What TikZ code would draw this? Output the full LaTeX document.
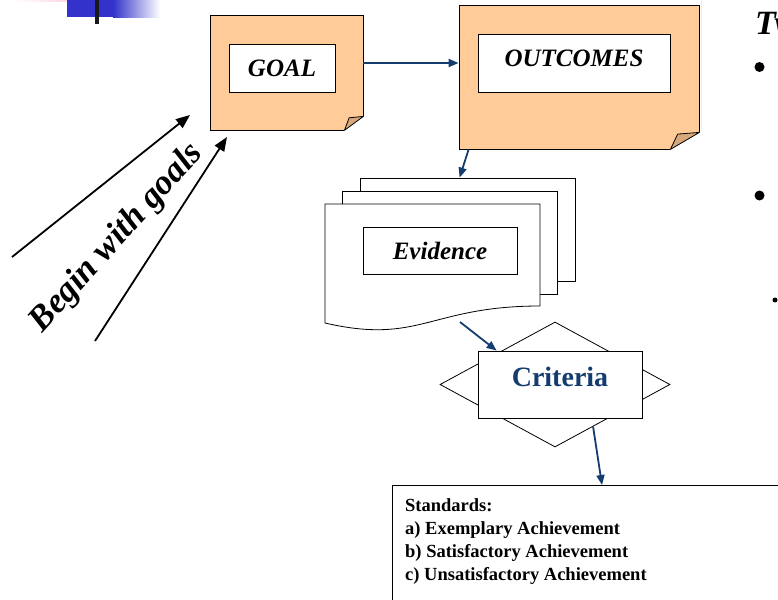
\documentclass[tikz,border=0pt]{standalone}
\usepackage{fontspec}
\setmainfont{Liberation Serif}
\usetikzlibrary{arrows.meta,shapes.geometric,calc}

\definecolor{peche}{RGB}{255,204,153}
\definecolor{pli}{RGB}{214,168,122}
\definecolor{bleufonce}{RGB}{20,60,110}
\definecolor{bleuvif}{RGB}{51,51,204}
\definecolor{rose}{RGB}{255,200,212}

\tikzset{
  note/.style={draw, fill=peche, line width=0.8pt, inner sep=0pt},
  cadre/.style={draw, fill=white, line width=0.8pt, inner sep=0pt},
  page/.style={draw, fill=white, line width=0.8pt, inner sep=0pt,
    minimum width=215pt, minimum height=103pt},
  titre/.style={font=\fontsize{25}{25}\selectfont\bfseries\itshape},
  fleche/.style={draw=bleufonce, line width=1.8pt, -{Triangle[length=10pt,width=8pt]}},
  grossefleche/.style={line width=1.8pt, -{Triangle[length=14pt,width=11pt]}},
}

\begin{document}
\begin{tikzpicture}[x=1pt, y=-1pt]
    % Cadre de la page (coordonnées en pixels, y vers le bas)
    \useasboundingbox (0,0) rectangle (778,599);
    \clip (0,0) rectangle (778,599);

    % Décor en haut à gauche
    \shade[left color=white, right color=rose] (15,0) rectangle (86,2);
    \fill[bleuvif] (67,0) rectangle (113,17);
    \shade[left color=bleuvif, right color=white] (113,0) rectangle (160,18);
    \fill[black!90] (95,0) rectangle (99,24);
    \draw[black!8, line width=0.8pt] (701,0) -- (701,130);

    % Notes orange (coin replié)
    \node[note, minimum width=153pt, minimum height=115pt] (goal) at (286.5,72.5) {};
    \node[note, minimum width=240pt, minimum height=144pt] (outcomes) at (579,77) {};
    \foreach \n/\dx/\dy in {goal/19/14, outcomes/29/17} {
        \filldraw[white, line width=1.2pt, line join=bevel] ([xshift=-\dx pt]\n.south east)
            -- ([shift={(1pt,-1pt)}]\n.south east) -- ([yshift=\dy pt]\n.south east) -- cycle;
        \draw[line width=0.8pt, fill=pli, line join=round] ([xshift=-\dx pt]\n.south east)
            -- ([shift={({-0.75*\dx pt},{0.9*\dy pt})}]\n.south east)
            -- ([yshift=\dy pt]\n.south east) -- cycle;
    }

    % Cadres blancs avec les titres
    \node[cadre, titre, minimum width=106pt, minimum height=48pt] (goalin) at (282,68) {GOAL};
    \node[cadre, titre, minimum width=192pt, minimum height=58pt, text depth=9pt] (outcomesin) at (574,63) {OUTCOMES};

    % Pile de documents (pages du fond)
    \foreach \i/\x/\y in {3/467.5/229.5, 2/449.5/242.5}
        \node[page] (evid\i) at (\x,\y) {};
    % Page de devant, bas ondulé
    \draw[line width=0.8pt, fill=white] (325,204) -- (540,204) -- (540,306)
        .. controls (430,306) and (420,345) .. (325,323) -- cycle;
    \coordinate (evbas) at (460,322);
    \node[cadre, titre, minimum width=154pt, minimum height=47pt] (evidencein) at (440,250.5) {Evidence};

    % Losange et critères
    \node[draw, diamond, fill=white, line width=0.8pt, inner sep=0pt,
        minimum width=230pt, minimum height=125pt] (losange) at (555,384.5) {};
    \node[cadre, minimum width=164pt, minimum height=67pt, text depth=16pt,
        font=\fontsize{28}{28}\selectfont\bfseries, text=bleufonce] (critere) at (560,384.5) {Criteria};

    % Cadre des normes
    \node[draw, line width=0.8pt, anchor=north west, minimum width=420pt,
        minimum height=140pt] (normes) at (392,485) {};
    \node[anchor=north west, align=left, inner sep=0pt,
        font=\fontsize{18.5}{23}\selectfont\bfseries] (normestxt)
        at ([shift={(13pt,-13.5pt)}]normes.north west)
        {Standards:\\ a) Exemplary Achievement\\ b) Satisfactory Achievement\\ c) Unsatisfactory Achievement};

    % Flèches bleues
    \draw[fleche] ([yshift=9.5pt]goal.east) coordinate (g1) -- (g1 -| outcomes.west);
    \draw[fleche] ([xshift=10pt]outcomes.south west) -- ([xshift=100pt]evid3.north west);
    \draw[fleche] (evbas) -- ([xshift=19pt]critere.north west);
    \draw[fleche] ($(losange.south)!0.33!(losange.east)$) -- ([xshift=210pt]normes.north west);

    % Texte penché et ses deux flèches
    \node[rotate=48, font=\fontsize{35}{35}\selectfont\bfseries\itshape] (debut) at (117,238) {Begin with goals};
    \coordinate (q1) at (12,257);
    \coordinate (t1) at (190,115);
    \coordinate (q2) at (95,341);
    \coordinate (t2) at (227,137);
    \draw[grossefleche] (q1) -- (t1);
    \draw[grossefleche] (q2) -- (t2);

    % Colonne de droite (coupée)
    \node[anchor=base west, inner sep=0pt, font=\fontsize{34}{34}\selectfont\bfseries\itshape] (titredroite) at (755,35) {Tw};
    \fill (759.5,67) circle (5pt);
    \fill (759.5,195.5) circle (5pt);
    \fill (775,300) circle (2.5pt);
\end{tikzpicture}
\end{document}
